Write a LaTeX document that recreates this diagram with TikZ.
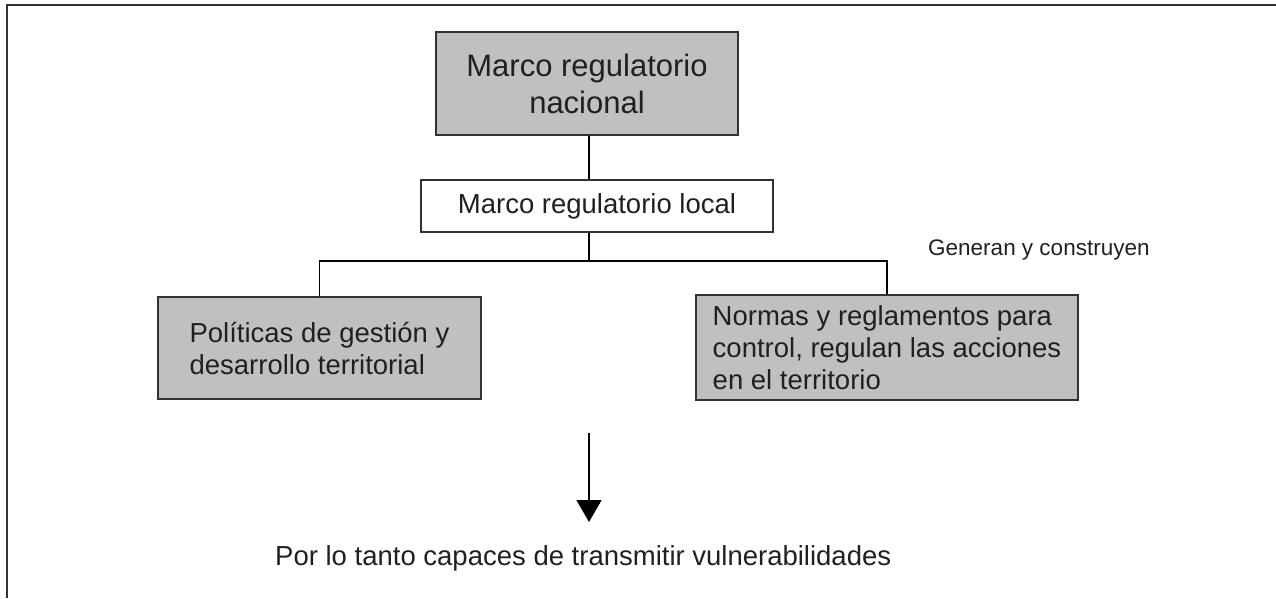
\documentclass[tikz,border=0pt]{standalone}
\usepackage{fontspec}
\setmainfont{Liberation Sans}
\usetikzlibrary{arrows.meta}
\definecolor{boxgray}{RGB}{191,192,194}
\definecolor{ink}{RGB}{35,31,32}
\definecolor{edge}{RGB}{50,50,50}
\begin{document}
\begin{tikzpicture}[x=1pt,y=-1pt,
  graybox/.style={draw=edge,line width=1.3pt,fill=boxgray,text=ink,inner sep=0pt},
  whitebox/.style={draw=edge,line width=1.3pt,fill=white,text=ink,inner sep=0pt},
  bigtxt/.style={font=\fontsize{31}{37}\selectfont},
  midtxt/.style={font=\fontsize{27.5}{32}\selectfont},
  smalltxt/.style={font=\fontsize{22.5}{27}\selectfont,text=ink},
  conn/.style={draw=black,line width=1.3pt},
  frameline/.style={draw=edge,line width=2pt}
]
\useasboundingbox (0,0) rectangle (1276,598);
\draw[frameline] (1276,5) -- (7,5) -- (7,598);

\node[graybox,bigtxt,align=center,minimum width=302pt,minimum height=103pt] (top) at (587,83.5) {Marco regulatorio\\nacional};
\node[whitebox,midtxt,align=center,minimum width=352pt,minimum height=52pt] (mid) at (597,206) {Marco regulatorio local};
\node[graybox,midtxt,align=left,minimum width=323pt,minimum height=102pt] (left) at (319.5,348) {Políticas de gestión y\\desarrollo territorial};
\node[graybox,midtxt,align=left,minimum width=382pt,minimum height=105pt] (right) at (887,347.5) {Normas y reglamentos para\\control, regulan las acciones\\en el territorio};
\node[smalltxt,anchor=base west,inner sep=0pt] (gen) at (928,255) {Generan y construyen};
\node[midtxt,text=ink,anchor=base west,inner sep=0pt] (concl) at (275,565) {Por lo tanto capaces de transmitir vulnerabilidades};

\coordinate (br) at (589,261);
\draw[conn] (top.south -| br) -- (mid.north -| br);
\draw[conn] (mid.south -| br) -- (br);
\draw[conn] (left.north) |- (br) -| (right.north);

\coordinate (astart) at (589,433);
\coordinate (aend) at (589,522);
\draw[conn,-{Triangle[length=22pt,width=25pt]}] (astart) -- (aend);
\end{tikzpicture}
\end{document}
